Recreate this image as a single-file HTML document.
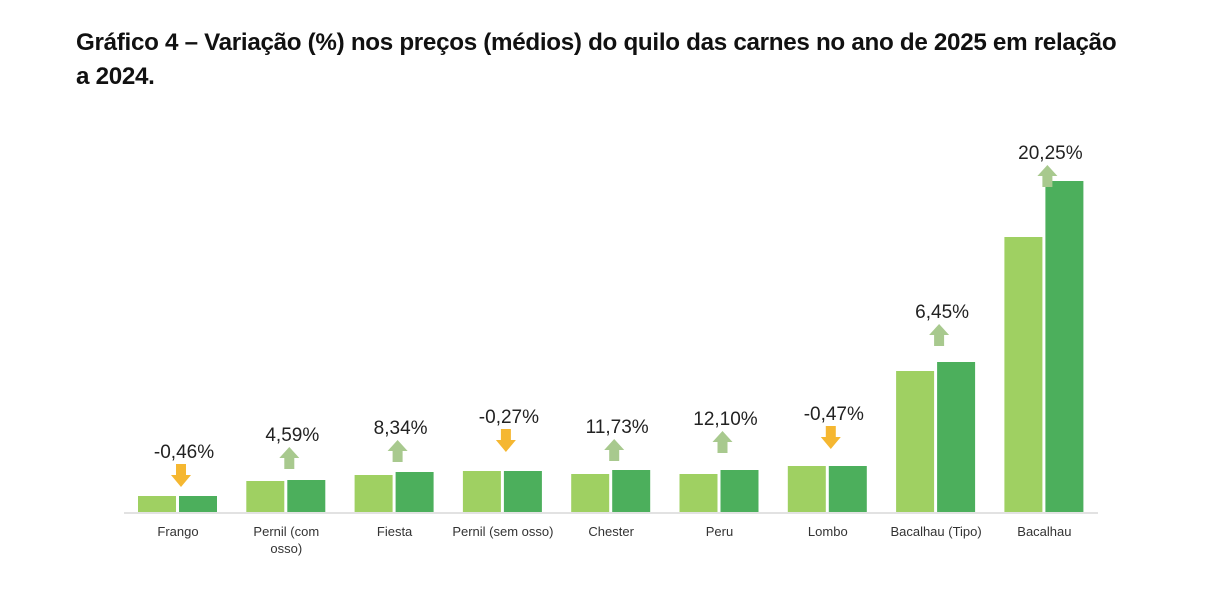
<!DOCTYPE html>
<html><head><meta charset="utf-8"><style>
body{margin:0;background:#fff;width:1222px;height:604px;overflow:hidden;font-family:"Liberation Sans",sans-serif;}
.t{position:absolute;left:76px;top:26px;font-size:24.2px;font-weight:600;color:#111;line-height:34px;letter-spacing:-0.3px;white-space:nowrap}
</style></head><body>
<div class="t">Gráfico 4 – Variação (%) nos preços (médios) do quilo das carnes no ano de 2025 em relação<br>a 2024.</div>
<svg width="1222" height="604" style="position:absolute;left:0;top:0" font-family="Liberation Sans, sans-serif">
<line x1="124" y1="513" x2="1098" y2="513" stroke="#d9d9d9" stroke-width="1.5"/>
<g id="bars"></g>
</svg>
<script>
var d=[["Frango",496,496,"-0,46%",450,0],["Pernil (com|osso)",481,480,"4,59%",433,1],["Fiesta",475,472,"8,34%",426,1],["Pernil (sem osso)",471,471,"-0,27%",415,0],["Chester",474,470,"11,73%",425,1],["Peru",474,470,"12,10%",417,1],["Lombo",466,466,"-0,47%",412,0],["Bacalhau (Tipo)",371,362,"6,45%",310,1],["Bacalhau",237,181,"20,25%",151,1]];
var s="";
d.forEach(function(r,i){var c=178+i*108.3;
s+='<rect x="'+(c-40)+'" y="'+r[1]+'" width="38" height="'+(512-r[1])+'" fill="#9fd062"/>';
s+='<rect x="'+(c+1)+'" y="'+r[2]+'" width="38" height="'+(512-r[2])+'" fill="#4caf5c"/>';
s+='<text x="'+(c+6)+'" y="'+(r[4]+8)+'" font-size="19" text-anchor="middle" fill="#222">'+r[3]+'</text>';
var ax=c+3,ay=r[4]+14;
if(r[5]){s+='<polygon points="'+(ax-10)+','+(ay+11)+' '+ax+','+ay+' '+(ax+10)+','+(ay+11)+' '+(ax+5)+','+(ay+11)+' '+(ax+5)+','+(ay+22)+' '+(ax-5)+','+(ay+22)+' '+(ax-5)+','+(ay+11)+'" fill="#a8c98e"/>';}
else{s+='<polygon points="'+(ax-5)+','+ay+' '+(ax+5)+','+ay+' '+(ax+5)+','+(ay+11)+' '+(ax+10)+','+(ay+11)+' '+ax+','+(ay+23)+' '+(ax-10)+','+(ay+11)+' '+(ax-5)+','+(ay+11)+'" fill="#f5b731"/>';}
var l=r[0].split("|");
l.forEach(function(t,j){s+='<text x="'+c+'" y="'+(536+j*17)+'" font-size="13" text-anchor="middle" fill="#333">'+t+'</text>';});
});
document.getElementById("bars").innerHTML=s;
</script>
</body></html>
